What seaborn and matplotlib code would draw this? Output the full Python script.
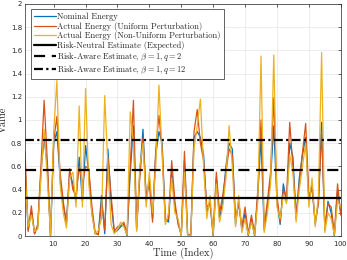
import numpy as np
import pandas as pd
import matplotlib
matplotlib.use("Agg")
import matplotlib.pyplot as plt
import seaborn as sns

# energy per time step
nominal = [0.60, 0.05, 0.22, 0.02, 0.08, 0.55, 0.85, 0.60, 0.00, 0.80,
           0.90, 0.50, 0.26, 0.12, 0.55, 0.45, 0.30, 0.68, 0.30, 0.78,
           0.55, 0.20, 0.02, 0.02, 0.35, 0.02, 0.75, 0.30, 0.03, 0.05,
           0.08, 0.10, 0.00, 0.55, 0.95, 0.05, 0.55, 0.92, 0.30, 0.50,
           0.15, 0.70, 0.90, 0.80, 0.15, 0.12, 0.55, 0.25, 0.12, 0.00,
           0.65, 0.00, 0.02, 0.85, 0.90, 0.85, 0.70, 0.20, 0.30, 0.00,
           0.50, 0.15, 0.30, 0.60, 0.80, 0.75, 0.10, 0.30, 0.05, 0.20,
           0.00, 0.15, 0.00, 0.35, 0.85, 0.05, 0.25, 0.50, 0.95, 0.30,
           0.10, 0.45, 0.30, 0.80, 0.68, 0.15, 0.50, 0.70, 0.85, 0.30,
           0.45, 0.10, 0.30, 0.98, 0.05, 0.30, 0.20, 0.00, 0.40, 0.20]
uniform = [0.73, 0.04, 0.26, 0.02, 0.10, 0.60, 1.17, 0.65, 0.00, 0.82,
           1.03, 0.55, 0.30, 0.10, 0.58, 0.40, 0.35, 0.60, 0.45, 0.60,
           0.58, 0.25, 0.03, 0.01, 0.30, 0.05, 0.68, 0.35, 0.04, 0.08,
           0.09, 0.12, 0.02, 0.60, 1.17, 0.08, 0.50, 0.85, 0.35, 0.45,
           0.12, 0.75, 1.04, 0.75, 0.12, 0.15, 0.65, 0.30, 0.10, 0.02,
           0.73, 0.01, 0.00, 0.90, 1.09, 0.80, 0.65, 0.25, 0.28, 0.02,
           0.55, 0.20, 0.35, 0.55, 0.75, 0.70, 0.15, 0.28, 0.08, 0.25,
           0.02, 0.18, 0.02, 0.40, 1.00, 0.08, 0.30, 0.55, 1.19, 0.35,
           0.12, 0.40, 0.32, 0.98, 0.60, 0.18, 0.45, 0.72, 0.97, 0.35,
           0.40, 0.12, 0.28, 0.90, 0.08, 0.28, 0.25, 0.02, 0.45, 0.18]
non_uniform = [0.55, 0.08, 0.18, 0.04, 0.06, 0.50, 0.92, 0.50, 0.01, 0.90,
               1.34, 0.45, 0.20, 0.07, 0.50, 0.55, 0.25, 1.12, 0.25, 1.27,
               0.45, 0.18, 0.02, 0.05, 0.15, 1.21, 0.60, 0.10, 0.02, 0.06,
               0.12, 0.08, 0.01, 1.07, 0.80, 0.04, 0.60, 0.80, 0.25, 0.55,
               0.20, 0.60, 1.30, 0.70, 0.10, 0.20, 0.50, 0.20, 0.15, 0.00,
               0.55, 0.00, 0.01, 0.75, 0.95, 1.18, 0.60, 0.15, 0.35, 0.01,
               0.45, 0.12, 0.25, 0.50, 0.95, 0.60, 0.08, 0.35, 0.03, 0.15,
               0.01, 0.12, 0.01, 0.30, 1.55, 0.03, 0.20, 0.45, 1.56, 0.25,
               0.15, 0.35, 0.28, 0.70, 0.55, 0.12, 0.40, 0.60, 0.80, 0.25,
               0.50, 0.08, 0.35, 1.58, 0.03, 0.20, 0.15, 0.01, 0.30, 0.25]
time_idx = list(range(1, 101))

# estimates (horizontal lines)
risk_neutral = 0.332
risk_aware_q2 = 0.566
risk_aware_q12 = 0.827

df = pd.DataFrame({"t": time_idx, "nom": nominal, "uni": uniform, "non": non_uniform})

sns.set_style("whitegrid")
plt.rcParams['font.family'] = ['cmr10', 'DejaVu Serif']
plt.rcParams['mathtext.fontset'] = 'cm'
plt.rcParams['axes.formatter.use_mathtext'] = True

fig = plt.figure(figsize=(3.47, 2.60), dpi=100)
ax = fig.add_axes([0.072, 0.092, 0.910, 0.893])

sns.lineplot(data=df, x="t", y="nom", color="#0072BD", lw=0.9, ax=ax, label="Nominal Energy")
sns.lineplot(data=df, x="t", y="uni", color="#D95319", lw=0.9, ax=ax, label="Actual Energy (Uniform Perturbation)")
sns.lineplot(data=df, x="t", y="non", color="#EDB120", lw=0.9, ax=ax, label="Actual Energy (Non-Uniform Perturbation)")
ax.axhline(risk_neutral, color="black", lw=1.6, label="Risk-Neutral Estimate (Expected)")
ax.axhline(risk_aware_q2, color="black", lw=1.6, ls=(0, (5, 3)), label=r"Risk-Aware Estimate, $\beta = 1, q = 2$")
ax.axhline(risk_aware_q12, color="black", lw=1.6, ls=(0, (4, 1.5, 1, 1.5)), label=r"Risk-Aware Estimate, $\beta = 1, q = 12$")

ax.set_xlim(1, 100)
ax.set_ylim(0, 2)
ax.set_xticks(range(10, 101, 10))
ax.set_yticks(np.arange(0, 2.01, 0.2))
ax.set_yticklabels(["0", "0.2", "0.4", "0.6", "0.8", "1", "1.2", "1.4", "1.6", "1.8", "2"])
ax.tick_params(direction="in", length=2.5, width=0.5, labelsize=5, colors="#262626",
               top=True, right=True, pad=2)
for lab in ax.get_xticklabels() + ax.get_yticklabels():
    lab.set_family("DejaVu Sans")
ax.grid(True, color="#e6e6e6", lw=0.5)
for s in ax.spines.values():
    s.set_color("#262626")
    s.set_linewidth(0.5)

ax.set_xlabel("Time (Index)", fontsize=7.5, labelpad=0)
ax.set_ylabel("Value", fontsize=7.5, labelpad=2)

leg = ax.legend(loc="upper left", fontsize=6.1, handlelength=2.6, handletextpad=0.2,
                labelspacing=0.1, borderpad=0.35, fancybox=False, framealpha=1,
                edgecolor="#262626", bbox_to_anchor=(0.005, 0.995))
leg.get_frame().set_linewidth(0.5)

fig.savefig("out.png", dpi=100)
